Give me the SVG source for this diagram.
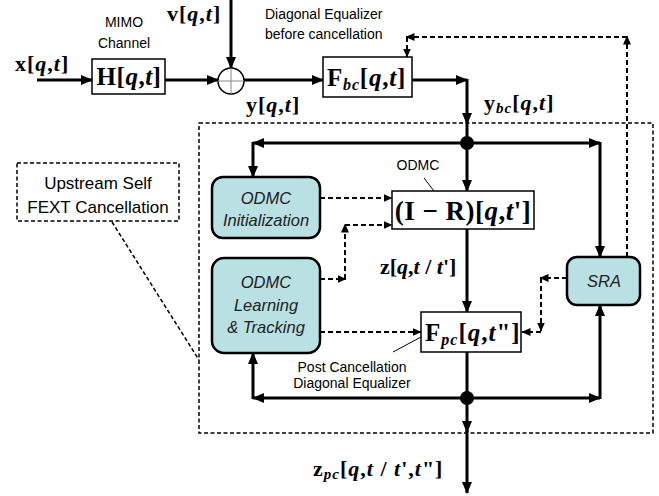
<svg xmlns="http://www.w3.org/2000/svg" width="659" height="496" viewBox="0 0 659 496">
<defs>
<style>
.m{font-family:"Liberation Serif","Times New Roman",serif;font-weight:bold;fill:#000;letter-spacing:1px}
.i{font-style:italic}
.s{font-family:"Liberation Sans",Arial,sans-serif;fill:#000}
.si{font-family:"Liberation Sans",Arial,sans-serif;font-style:italic;fill:#222;font-size:16.5px;text-anchor:middle}
.box{fill:#fff;stroke:#000;stroke-width:1.5}
.rbox{fill:#b9e0e2;stroke:#000;stroke-width:2.5}
.sl{fill:none;stroke:#000;stroke-width:3}
.dl{fill:none;stroke:#000;stroke-width:2;stroke-dasharray:5,3}
.db{fill:none;stroke:#000;stroke-width:1.5;stroke-dasharray:4,2.5}
.th{fill:none;stroke:#000;stroke-width:1}
</style>
<marker id="a" markerUnits="userSpaceOnUse" markerWidth="12" markerHeight="10" refX="11" refY="5" orient="auto"><path d="M0,0 L12,5 L0,10 z" fill="#000"/></marker>
<marker id="d" markerUnits="userSpaceOnUse" markerWidth="9" markerHeight="8" refX="8.5" refY="4" orient="auto"><path d="M0,0 L9,4 L0,8 z" fill="#000"/></marker>
</defs>

<g id="connectors">
<line class="sl" x1="37" y1="80" x2="92" y2="80" marker-end="url(#a)"/>
<line class="sl" x1="165" y1="80" x2="218" y2="80" marker-end="url(#a)"/>
<line class="sl" x1="231" y1="0" x2="231" y2="68" marker-end="url(#a)"/>
<line class="sl" x1="244" y1="80" x2="323" y2="80" marker-end="url(#a)"/>
<line class="sl" x1="412" y1="80" x2="467" y2="80" marker-end="url(#a)"/>
<line class="sl" x1="467" y1="79" x2="467" y2="124" marker-end="url(#a)"/>
<line class="sl" x1="467" y1="124" x2="467" y2="143"/>
<line class="sl" x1="467" y1="143" x2="467" y2="191" marker-end="url(#a)"/>
<line class="sl" x1="467" y1="229" x2="467" y2="312" marker-end="url(#a)"/>
<line class="sl" x1="467" y1="352" x2="467" y2="432" marker-end="url(#a)"/>
<line class="sl" x1="467" y1="430" x2="467" y2="493" marker-end="url(#a)"/>
<line class="sl" x1="467" y1="143" x2="253" y2="143" marker-end="url(#a)"/>
<line class="sl" x1="253" y1="142" x2="253" y2="177" marker-end="url(#a)"/>
<line class="sl" x1="467" y1="143" x2="600" y2="143" marker-end="url(#a)"/>
<line class="sl" x1="600" y1="142" x2="600" y2="257" marker-end="url(#a)"/>
<line class="sl" x1="467" y1="398" x2="253" y2="398" marker-end="url(#a)"/>
<line class="sl" x1="253" y1="399" x2="253" y2="353" marker-end="url(#a)"/>
<line class="sl" x1="467" y1="398" x2="600" y2="398" marker-end="url(#a)"/>
<line class="sl" x1="600" y1="399" x2="600" y2="305" marker-end="url(#a)"/>
<line class="dl" x1="320" y1="198" x2="392" y2="198" marker-end="url(#d)"/>
<line class="dl" x1="320" y1="279" x2="346" y2="279" marker-end="url(#d)"/>
<line class="dl" x1="345" y1="279" x2="345" y2="224" marker-end="url(#d)"/>
<line class="dl" x1="345" y1="225" x2="392" y2="225" marker-end="url(#d)"/>
<line class="dl" x1="320" y1="332" x2="421" y2="332" marker-end="url(#d)"/>
<line class="dl" x1="567" y1="278" x2="540" y2="278" marker-end="url(#d)"/>
<line class="dl" x1="541" y1="278" x2="541" y2="331" marker-end="url(#d)"/>
<line class="dl" x1="541" y1="332" x2="522" y2="332" marker-end="url(#d)"/>
<line class="dl" x1="627" y1="257" x2="627" y2="36" marker-end="url(#d)"/>
<line class="dl" x1="627" y1="37" x2="406" y2="37" marker-end="url(#d)"/>
<line class="dl" x1="407" y1="37" x2="407" y2="57" marker-end="url(#d)"/>
<line class="db" x1="112" y1="222" x2="199" y2="360"/>
<line class="th" x1="424" y1="178" x2="434" y2="191"/>
<line class="th" x1="393" y1="352" x2="421" y2="337"/>
<circle cx="467" cy="143" r="7" fill="#000"/>
<circle cx="467" cy="398" r="7" fill="#000"/>
</g>

<g id="dashed-region">
<rect class="db" x="199" y="123" width="454" height="310"/>
</g>

<g id="upstream">
<rect class="db" x="17" y="163" width="162" height="58"/>
<text class="s" font-size="17" text-anchor="middle" x="98" y="189">Upstream Self</text>
<text class="s" font-size="17" text-anchor="middle" x="98" y="213">FEXT Cancellation</text>
</g>

<g id="x-label"><text class="m" font-size="22" x="15" y="71">x[<tspan class="i">q</tspan>,<tspan class="i">t</tspan>]</text></g>
<g id="v-label"><text class="m" font-size="22" x="167" y="21">v[<tspan class="i">q</tspan>,<tspan class="i">t</tspan>]</text></g>
<g id="y-label"><text class="m" font-size="22" x="246" y="112">y[<tspan class="i">q</tspan>,<tspan class="i">t</tspan>]</text></g>
<g id="ybc-label"><text class="m" font-size="22" x="484" y="110">y<tspan class="i" font-size="15" dy="3">bc</tspan><tspan dy="-3">[</tspan><tspan class="i">q</tspan>,<tspan class="i">t</tspan>]</text></g>
<g id="z-label"><text class="m" font-size="22" x="380" y="274" style="letter-spacing:0">z[<tspan class="i">q</tspan>,<tspan class="i">t</tspan> / <tspan class="i">t</tspan>']</text></g>
<g id="zpc-label"><text class="m" font-size="22" x="313" y="476">z<tspan class="i" font-size="15" dy="3">pc</tspan><tspan dy="-3">[</tspan><tspan class="i">q</tspan>,<tspan class="i">t</tspan> / <tspan class="i">t</tspan>',<tspan class="i">t</tspan>"]</text></g>

<g id="mimo">
<text class="s" font-size="14" text-anchor="middle" x="124" y="27">MIMO</text>
<text class="s" font-size="14" text-anchor="middle" x="124" y="48">Channel</text>
<rect class="box" x="92" y="59" width="73" height="35"/>
<text class="m" font-size="25" text-anchor="middle" x="129" y="85" style="letter-spacing:0.5px">H[<tspan class="i">q</tspan>,<tspan class="i">t</tspan>]</text>
</g>

<g id="sum">
<circle cx="231" cy="81" r="13" fill="#fff" stroke="#000" stroke-width="1.5"/>
<line x1="218" y1="81" x2="244" y2="81" stroke="#888" stroke-width="1"/>
<line x1="231" y1="68" x2="231" y2="94" stroke="#888" stroke-width="1"/>
</g>

<g id="fbc">
<text class="s" font-size="14" x="265" y="19">Diagonal Equalizer</text>
<text class="s" font-size="14" x="265" y="39">before cancellation</text>
<rect class="box" x="323" y="57" width="89" height="40"/>
<text class="m" font-size="25" x="327" y="86" style="letter-spacing:0.8px">F<tspan class="i" font-size="16" dy="4">bc</tspan><tspan dy="-4">[</tspan><tspan class="i">q</tspan>,<tspan class="i">t</tspan>]</text>
</g>

<g id="odmc-init">
<rect class="rbox" x="212" y="177" width="108" height="61" rx="11"/>
<text class="si" x="266" y="204">ODMC</text>
<text class="si" x="266" y="226">Initialization</text>
</g>

<g id="odmc-lt">
<rect class="rbox" x="212" y="258" width="108" height="95" rx="12"/>
<text class="si" x="266" y="288">ODMC</text>
<text class="si" x="266" y="311">Learning</text>
<text class="si" x="266" y="333">&amp; Tracking</text>
</g>

<g id="odmc">
<text class="s" font-size="14" text-anchor="middle" x="418" y="170">ODMC</text>
<rect class="box" x="392" y="191" width="142" height="38"/>
<text class="m" font-size="27" text-anchor="middle" x="463" y="220" style="letter-spacing:0.5px">(I − R)[<tspan class="i">q</tspan>,<tspan class="i">t</tspan>']</text>
</g>

<g id="fpc">
<rect class="box" x="421" y="312" width="100" height="40"/>
<text class="m" font-size="25" x="425" y="341" style="letter-spacing:1px">F<tspan class="i" font-size="16" dy="4">pc</tspan><tspan dy="-4">[</tspan><tspan class="i">q</tspan>,<tspan class="i">t</tspan>"]</text>
<text class="s" font-size="14" text-anchor="middle" x="352" y="372">Post Cancellation</text>
<text class="s" font-size="14" text-anchor="middle" x="352" y="388">Diagonal Equalizer</text>
</g>

<g id="sra">
<rect class="rbox" x="567" y="257" width="73" height="48" rx="10"/>
<text class="si" font-size="16" x="604" y="287">SRA</text>
</g>
</svg>
